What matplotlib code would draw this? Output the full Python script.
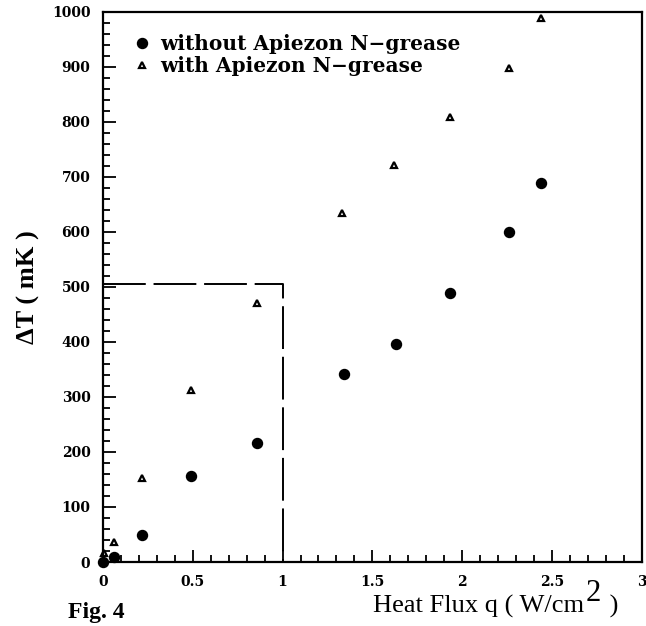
import matplotlib
matplotlib.use("Agg")
from matplotlib import pyplot as plt
from matplotlib.ticker import MultipleLocator

# data (q in W/cm^2, dT in mK)
q_without = [0.0, 0.06, 0.22, 0.49, 0.86, 1.34, 1.63, 1.93, 2.26, 2.44]
dT_without = [0, 9, 49, 156, 217, 342, 397, 488, 600, 689]

q_with = [0.005, 0.06, 0.22, 0.49, 0.86, 1.33, 1.62, 1.93, 2.26, 2.44]
dT_with = [16, 36, 153, 313, 470, 635, 721, 808, 897, 988]

# dashed region (q <= 1, dT <= 500)
box_q = [0.0, 1.0, 1.0]
box_dT = [505, 505, 0]

x_ticks = [0, 0.5, 1, 1.5, 2, 2.5, 3]
x_ticklabels = ["0", "0.5", "1", "1.5", "2", "2.5", "3"]
y_ticks = [0, 100, 200, 300, 400, 500, 600, 700, 800, 900, 1000]

plt.rcParams["font.family"] = ["Liberation Serif", "DejaVu Serif"]

fig = plt.figure(figsize=(6.46, 6.26), dpi=100)
ax = fig.add_axes([0.1594, 0.1022, 0.834, 0.879])

ax.plot(box_q, box_dT, color="black", lw=1.4, dashes=(22, 4))
ax.plot(q_without, dT_without, "o", color="black", ms=7.2, ls="none",
        label="without Apiezon N\u2212grease", clip_on=False)
ax.plot(q_with, dT_with, "^", mfc="white", mec="black", mew=1.6, ms=5,
        ls="none", label="with Apiezon N\u2212grease", clip_on=False)

ax.set_xlim(0, 3)
ax.set_ylim(0, 1000)
ax.set_xticks(x_ticks)
ax.set_xticklabels(x_ticklabels)
ax.set_yticks(y_ticks)
ax.xaxis.set_minor_locator(MultipleLocator(0.1))
ax.yaxis.set_minor_locator(MultipleLocator(20))
ax.tick_params(which="both", direction="in", top=False, right=False, width=1.3)
ax.tick_params(which="major", length=9)
ax.tick_params(which="minor", length=5)
ax.tick_params(axis="x", pad=9)
ax.tick_params(axis="y", pad=9)
for lab in ax.get_xticklabels() + ax.get_yticklabels():
    lab.set_family("DejaVu Serif")
    lab.set_fontweight("bold")
    lab.set_fontsize(10)
for sp in ax.spines.values():
    sp.set_linewidth(1.6)

ax.set_ylabel("\u0394T ( mK )", fontsize=19, fontweight="bold")
ax.yaxis.set_label_coords(-0.117, 0.5)

# x label with a full-size raised "2", like the original
xl = ax.text(0.501, -0.101, "Heat Flux q ( W/cm", transform=ax.transAxes,
             fontsize=19, ha="left", va="bottom")
sup = ax.annotate("2", xy=(1, 0), xycoords=xl, xytext=(1, 7),
                  textcoords="offset points", fontsize=22, va="bottom")
ax.annotate(" )", xy=(1, 0), xycoords=sup, xytext=(2, -7),
            textcoords="offset points", fontsize=19, va="bottom")

leg = ax.legend(loc="upper left", bbox_to_anchor=(0.057, 0.959), frameon=False,
                prop={"family": "DejaVu Serif", "weight": "bold", "size": 14.5},
                handlelength=0.8, handletextpad=0.51, labelspacing=0.08,
                borderpad=0, borderaxespad=0)

fig.text(0.149, 0.022, "Fig. 4", fontsize=17, fontweight="bold",
         ha="center", va="center")

fig.savefig("out.png", dpi=100)
